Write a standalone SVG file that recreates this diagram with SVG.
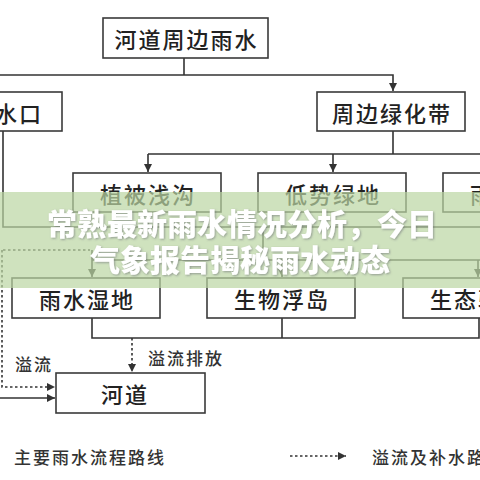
<svg xmlns="http://www.w3.org/2000/svg" width="480" height="480" viewBox="0 0 480 480">
<style>
.box{fill:#fff;stroke:#3a3a3a;stroke-width:1.6}
.lbl{font-family:"Noto Sans CJK SC","Noto Sans",sans-serif;font-size:22px;font-weight:500;letter-spacing:2px;fill:#222;text-anchor:middle;dominant-baseline:central}
.sm{font-family:"Noto Sans CJK SC","Noto Sans",sans-serif;font-size:17px;font-weight:500;letter-spacing:2px;fill:#333;dominant-baseline:central}
.ln{fill:none;stroke:#333;stroke-width:1.6}
.dt{fill:none;stroke:#333;stroke-width:1.6;stroke-dasharray:2.5 2.5}
.ban{font-family:"Noto Sans CJK SC","Noto Sans",sans-serif;font-size:30px;font-weight:900;fill:#fff;text-anchor:middle}
</style>
<defs>
<marker id="ah" viewBox="0 0 10 10" refX="10" refY="5" markerWidth="8" markerHeight="8" markerUnits="userSpaceOnUse" orient="auto">
<path d="M0,0 L10,5 L0,10 z" fill="#333"/>
</marker>
<filter id="sh" x="-10%" y="-30%" width="120%" height="160%">
<feDropShadow dx="1" dy="1" stdDeviation="1" flood-color="#556" flood-opacity="0.5"/>
</filter>
</defs>
<rect width="480" height="480" fill="#fff"/>
<g id="connectors">
<path class="ln" d="M184,58 V75"/>
<path class="ln" d="M0,75 H393 V91" marker-end="url(#ah)"/>
<path class="ln" d="M393,131 V154"/>
<path class="ln" d="M148,154 H480"/>
<path class="ln" d="M148,154 V172" marker-end="url(#ah)"/>
<path class="ln" d="M333,154 V172" marker-end="url(#ah)"/>
<path class="ln" d="M3,131 V227 H480"/>
<path class="ln" d="M148,212 V227 M333,212 V227"/>
<path class="ln" d="M263,227 V260 M92,260 H480"/>
<path class="ln" d="M92,250 V277" marker-end="url(#ah)"/>
<path class="ln" d="M282,260 V277" marker-end="url(#ah)"/>
<path class="ln" d="M478,260 V277" marker-end="url(#ah)"/>
<path class="dt" d="M3,250 H90"/>
<path class="dt" d="M2,250 V387 H55" marker-end="url(#ah)"/>
<path class="ln" d="M0,398 H55" marker-end="url(#ah)"/>
<path class="ln" d="M92,318 V338 H479 V318 M282,318 V338"/>
<path class="dt" d="M132,338 V372" marker-end="url(#ah)"/>
</g>
<g id="n-top"><rect class="box" x="103" y="18" width="165" height="40"/><text class="lbl" x="186.5" y="38">河道周边雨水</text></g>
<g id="n-ysk"><rect class="box" x="-86" y="92" width="148" height="39"/><text class="lbl" x="7" y="111.5">雨水口</text></g>
<g id="n-lhd"><rect class="box" x="317" y="92" width="148" height="39"/><text class="lbl" x="392" y="111.5">周边绿化带</text></g>
<g id="n-zbqg"><rect class="box" x="73" y="173" width="148" height="39"/><text class="lbl" x="148" y="192.5">植被浅沟</text></g>
<g id="n-dsld"><rect class="box" x="258" y="173" width="148" height="39"/><text class="lbl" x="333" y="192.5">低势绿地</text></g>
<g id="n-yshy"><rect class="box" x="443" y="173" width="148" height="39"/><text class="lbl" x="518" y="192.5">雨水花园</text></g>
<g id="n-yssd"><rect class="box" x="12" y="278" width="148" height="40"/><text class="lbl" x="87" y="298">雨水湿地</text></g>
<g id="n-swfd"><rect class="box" x="207" y="278" width="148" height="40"/><text class="lbl" x="282" y="298">生物浮岛</text></g>
<g id="n-stba"><rect class="box" x="403" y="278" width="148" height="40"/><text class="lbl" x="478" y="298">生态驳岸</text></g>
<g id="n-hd"><rect class="box" x="56" y="373" width="149" height="40"/><text class="lbl" x="125" y="393">河道</text></g>
<g id="labels">
<text class="sm" x="148" y="357">溢流排放</text>
<text class="sm" x="15" y="363">溢流</text>
</g>
<g id="legend">
<text class="sm" x="14" y="456">主要雨水流程路线</text>
<path class="dt" d="M290,456 H346" marker-end="url(#ah)"/>
<text class="sm" x="372" y="456">溢流及补水路线</text>
</g>
<g id="banner">
<rect x="0" y="192" width="480" height="96" fill="#bad5a2" opacity="0.7"/>
<text class="ban" x="242" y="235" filter="url(#sh)">常熟最新雨水情况分析，今日</text>
<text class="ban" x="240" y="271" filter="url(#sh)">气象报告揭秘雨水动态</text>
</g>
</svg>
